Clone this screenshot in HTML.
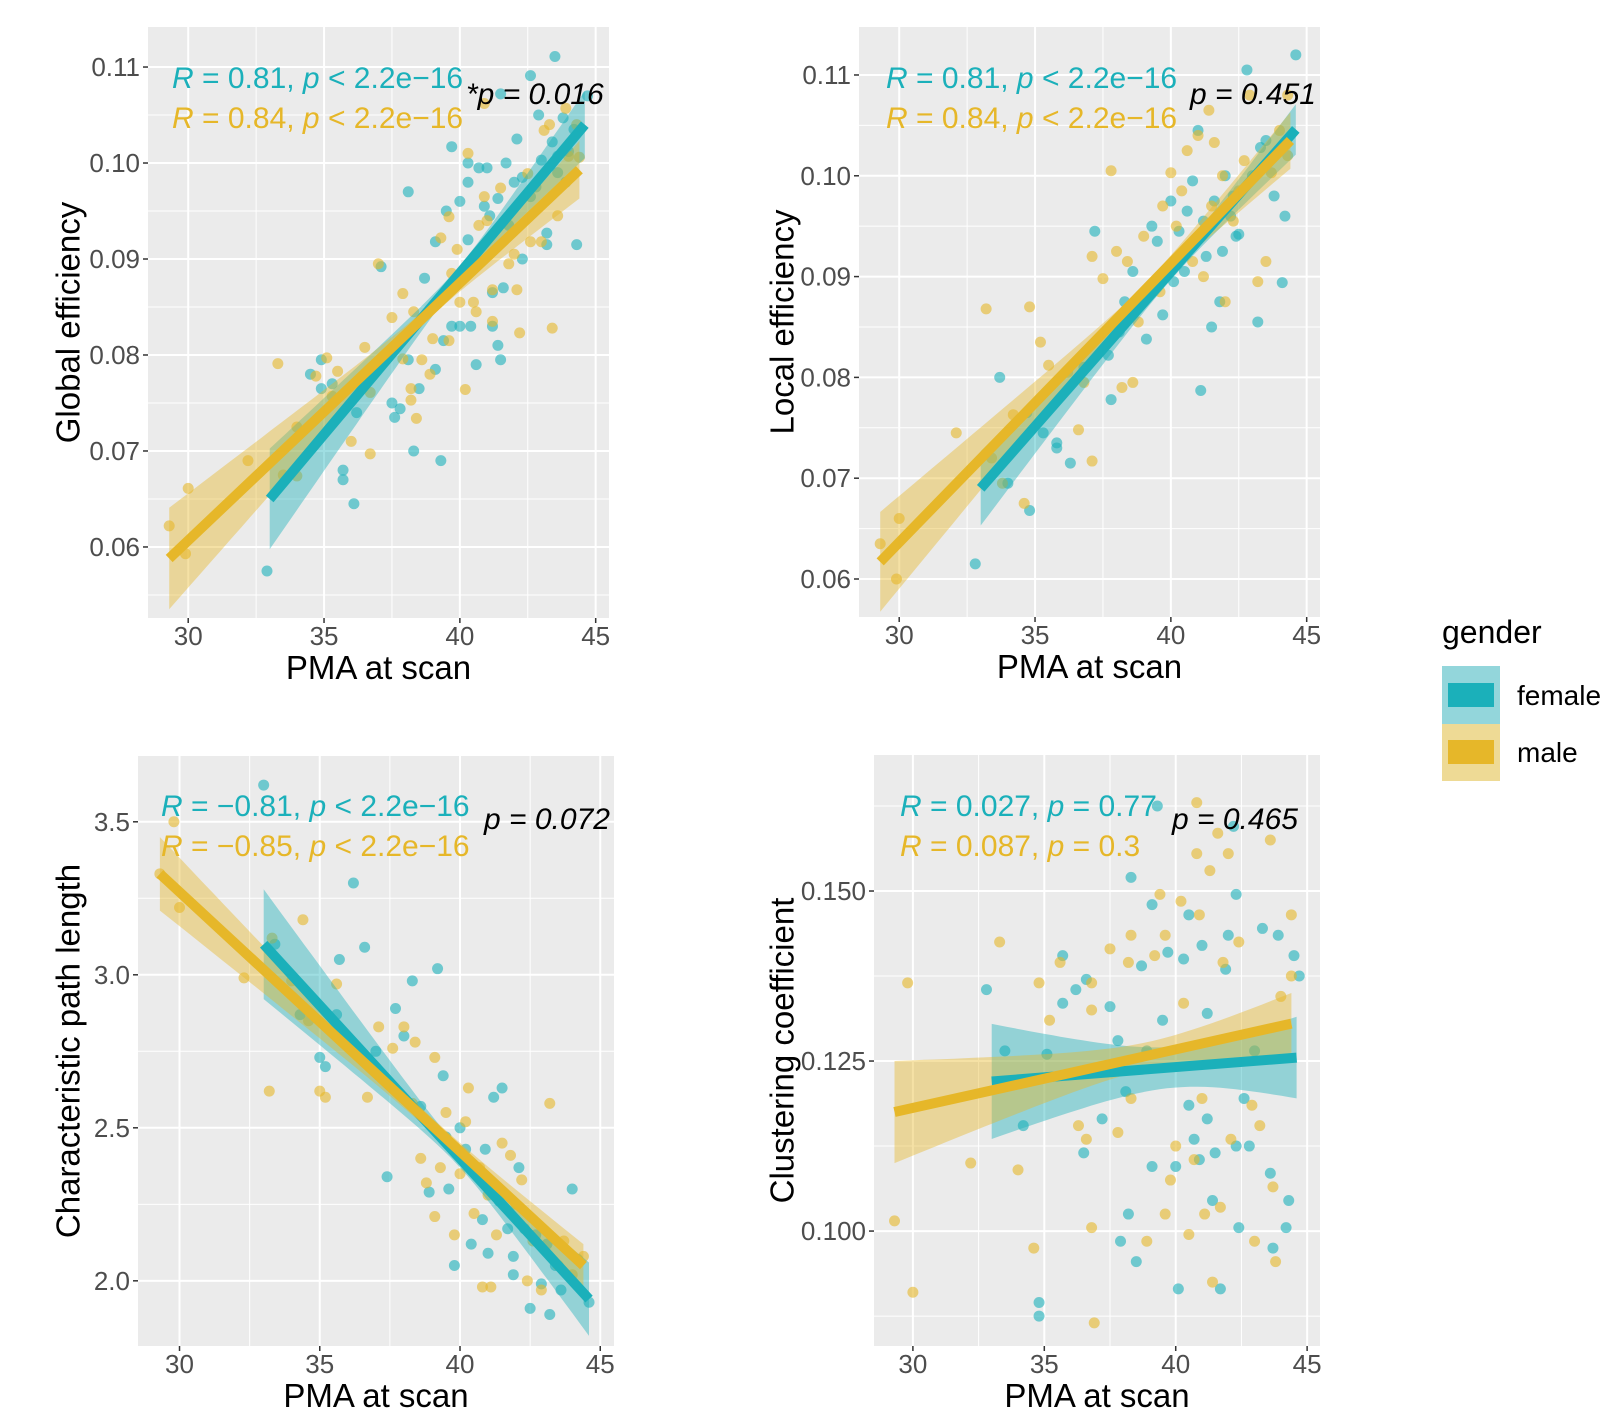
<!DOCTYPE html>
<html><head><meta charset="utf-8">
<style>
html,body{margin:0;padding:0;background:#fff;}
svg{display:block;font-family:"Liberation Sans",Arial,sans-serif;}
</style></head>
<body>
<svg id="fig" width="1622" height="1418" viewBox="0 0 1622 1418" xmlns="http://www.w3.org/2000/svg">
  <g id="legend">
    <text x="1442" y="643" font-size="32" fill="#000">gender</text>
    <rect x="1442" y="666" width="58" height="58" fill="#93D6DB"/>
    <rect x="1448" y="683" width="46" height="24" fill="#1BB0BA"/>
    <text x="1517" y="705" font-size="28" fill="#000">female</text>
    <rect x="1442" y="724" width="58" height="57" fill="#EEDA95"/>
    <rect x="1448" y="740" width="46" height="24" fill="#E6B729"/>
    <text x="1517" y="762" font-size="28" fill="#000">male</text>
  </g>
</svg>
<script>
// ---------- data ----------
const xTicks = [30, 35, 40, 45];
const xMinor = [32.5, 37.5, 42.5];
const xDomain = [28.52, 45.49];

const p1Ticks = [0.06, 0.07, 0.08, 0.09, 0.10, 0.11];
const p1TickLabels = ["0.06", "0.07", "0.08", "0.09", "0.10", "0.11"];
const p1Minor = [0.055, 0.065, 0.075, 0.085, 0.095, 0.105];
const p1Female = [[32.9,0.0575],[34.5,0.078],[34.9,0.0765],[34.9,0.0795],[35.3,0.077],[35.7,0.068],[35.7,0.067],[36.1,0.0645],[36.2,0.074],[37.1,0.0892],[37.5,0.075],[37.6,0.0735],[37.8,0.0744],[38.1,0.097],[38.1,0.0795],[38.3,0.070],[38.5,0.0765],[38.7,0.088],[39.1,0.0918],[39.1,0.0785],[39.3,0.069],[39.4,0.0815],[39.5,0.095],[39.7,0.1017],[39.7,0.083],[40,0.096],[40,0.083],[40.3,0.100],[40.3,0.098],[40.3,0.092],[40.4,0.083],[40.6,0.079],[40.7,0.0995],[40.9,0.0955],[41,0.0995],[41.1,0.0945],[41.2,0.0865],[41.2,0.083],[41.4,0.0963],[41.4,0.081],[41.5,0.1072],[41.5,0.0795],[41.6,0.087],[41.7,0.100],[41.8,0.0935],[42,0.098],[42.1,0.1025],[42.3,0.0985],[42.3,0.090],[42.6,0.0965],[42.6,0.1091],[42.8,0.0975],[43,0.1003],[43.2,0.0915],[43.2,0.0927],[43.4,0.1022],[43.5,0.1111],[43.6,0.1007],[43.6,0.099],[43.8,0.1047],[44,0.1012],[44.2,0.1035],[44.3,0.0915],[44.7,0.107],[42.9,0.105],[43.9,0.098]];
const p1Male = [[29.3,0.0622],[29.9,0.0593],[30,0.0661],[32.2,0.069],[33.3,0.0791],[33.5,0.0675],[34,0.0725],[34,0.0674],[34.7,0.0778],[35.1,0.0797],[35.3,0.0757],[35.5,0.0783],[36,0.071],[36.5,0.0808],[36.7,0.0697],[36.7,0.0761],[37,0.0895],[37.5,0.0839],[37.9,0.0796],[37.9,0.0864],[38.2,0.0765],[38.2,0.0753],[38.3,0.0845],[38.4,0.0734],[38.6,0.0795],[38.9,0.078],[39,0.0817],[39.3,0.0922],[39.6,0.0944],[39.6,0.0815],[39.7,0.0885],[39.9,0.091],[40,0.0855],[40.2,0.0764],[40.3,0.101],[40.5,0.0855],[40.6,0.0845],[40.7,0.0935],[40.9,0.0965],[41,0.094],[41.2,0.0868],[41.2,0.0835],[41.5,0.0974],[41.8,0.0895],[42,0.0905],[42.1,0.0868],[42.2,0.0823],[42.5,0.0989],[42.6,0.0918],[43,0.0918],[43.1,0.1034],[43.3,0.104],[43.4,0.0828],[43.6,0.0945],[43.9,0.1057],[44,0.1007],[44.4,0.1006],[40.9,0.1062],[44.3,0.104]];
// fit: [xStart, xEnd, yStart, yEnd, xCenter, halfWidthCenter, halfWidthEnd]
const p1FitFemale = [33, 44.6, 0.065, 0.104, 40, 0.0008, 0.0035];
const p1FitMale = [29.3, 44.4, 0.0588, 0.0993, 39, 0.0007, 0.003];

const p2Ticks = [0.06, 0.07, 0.08, 0.09, 0.10, 0.11];
const p2TickLabels = ["0.06", "0.07", "0.08", "0.09", "0.10", "0.11"];
const p2Minor = [0.065, 0.075, 0.085, 0.095, 0.105];
const p2Female = [[32.8,0.0615],[33.7,0.080],[34,0.0695],[34.7,0.0765],[34.8,0.0668],[35.3,0.0745],[35.8,0.0735],[35.8,0.073],[36.3,0.0715],[36.8,0.081],[37.2,0.0945],[37.7,0.0822],[37.8,0.0778],[38.1,0.0845],[38.3,0.0875],[38.6,0.0905],[38.9,0.088],[39.1,0.0838],[39.3,0.095],[39.5,0.0935],[39.7,0.0862],[40,0.0975],[40.1,0.0895],[40.3,0.0945],[40.5,0.0905],[40.8,0.0995],[41,0.1045],[41.1,0.0787],[41.2,0.0955],[41.3,0.092],[41.5,0.085],[41.6,0.0975],[41.8,0.0875],[42,0.1],[42.2,0.096],[42.3,0.098],[42.5,0.0942],[42.8,0.1105],[43,0.1],[43.2,0.0855],[43.3,0.1028],[43.5,0.1035],[43.8,0.098],[44.1,0.0894],[44.2,0.096],[44.6,0.112],[42.4,0.094],[41.9,0.0925],[40.6,0.0965],[39.9,0.0905]];
const p2Male = [[29.3,0.0635],[29.9,0.06],[30,0.066],[32.1,0.0745],[33.2,0.0868],[33.4,0.072],[33.8,0.0695],[34.2,0.0763],[34.6,0.0675],[34.8,0.087],[35.2,0.0835],[35.5,0.0812],[36.2,0.0805],[36.6,0.0748],[36.8,0.0795],[37.1,0.0717],[37.1,0.092],[37.5,0.0898],[37.8,0.1005],[38,0.0925],[38.2,0.079],[38.4,0.0915],[38.6,0.0795],[38.8,0.0855],[39,0.094],[39.4,0.0895],[39.7,0.097],[40,0.1003],[40.2,0.095],[40.4,0.0985],[40.6,0.1025],[40.8,0.0915],[41,0.104],[41.2,0.09],[41.4,0.1065],[41.6,0.1033],[41.9,0.1],[42,0.0875],[42.3,0.0955],[42.5,0.0985],[42.7,0.1015],[42.9,0.108],[43.2,0.0895],[43.5,0.0915],[43.7,0.1003],[44,0.1045],[44.3,0.108],[44.3,0.102],[41.5,0.097],[39.6,0.0885]];
const p2FitFemale = [33, 44.6, 0.069, 0.1046, 40, 0.0008, 0.0025];
const p2FitMale = [29.3, 44.4, 0.0617, 0.1035, 39, 0.0006, 0.0028];

const p3Ticks = [2.0, 2.5, 3.0, 3.5];
const p3TickLabels = ["2.0", "2.5", "3.0", "3.5"];
const p3Minor = [2.25, 2.75, 3.25];
const p3Female = [[33,3.62],[33.4,3.1],[34.3,2.87],[35,2.73],[35.2,2.7],[35.6,2.87],[35.7,3.05],[36.2,3.3],[36.6,3.09],[37,2.75],[37.4,2.34],[37.7,2.89],[38,2.8],[38.3,2.98],[38.6,2.57],[38.9,2.29],[39.2,3.02],[39.4,2.67],[39.6,2.3],[39.8,2.05],[40,2.5],[40.2,2.43],[40.4,2.12],[40.6,2.37],[40.8,2.2],[41,2.09],[41.2,2.6],[41.4,2.26],[41.5,2.63],[41.7,2.17],[41.9,2.02],[42.1,2.37],[42.3,2.17],[42.5,1.91],[42.7,2.15],[42.9,1.99],[43.2,1.89],[43.4,2.05],[43.6,1.97],[44,2.3],[44.2,2.07],[44.6,1.93],[41.9,2.08],[40.9,2.43],[39.5,2.47],[43.1,2.12]];
const p3Male = [[29.3,3.33],[29.8,3.5],[30,3.22],[32.3,2.99],[33.2,2.62],[33.3,3.12],[34,2.98],[34.4,3.18],[34.6,2.85],[35,2.62],[35.2,2.6],[35.6,2.97],[36.1,2.76],[36.7,2.6],[37.1,2.83],[37.6,2.76],[38,2.83],[38.3,2.58],[38.4,2.78],[38.6,2.4],[38.8,2.32],[39.1,2.73],[39.3,2.37],[39.5,2.55],[39.8,2.15],[40,2.35],[40.2,2.52],[40.3,2.63],[40.5,2.22],[40.7,2.37],[40.8,1.98],[41,2.28],[41.3,2.15],[41.5,2.45],[41.8,2.41],[42,2.25],[42.2,2.33],[42.4,2.0],[42.6,2.13],[42.9,1.97],[43.2,2.58],[43.5,2.05],[43.7,2.13],[44,2.02],[44.4,2.08],[41.1,1.98],[39.1,2.21]];
const p3FitFemale = [33, 44.6, 3.10, 1.94, 40, 0.03, 0.12];
const p3FitMale = [29.3, 44.4, 3.33, 2.05, 39, 0.025, 0.07];

const p4Ticks = [0.100, 0.125, 0.150];
const p4TickLabels = ["0.100", "0.125", "0.150"];
const p4Minor = [0.0875, 0.1125, 0.1375, 0.1625];
const p4Female = [[32.8,0.1355],[33.5,0.1265],[34.2,0.1155],[34.8,0.0895],[34.8,0.0875],[35.1,0.126],[35.7,0.1405],[35.7,0.1335],[36.2,0.1355],[36.5,0.1115],[36.6,0.137],[37.2,0.1165],[37.5,0.1330],[37.8,0.128],[37.9,0.0985],[38.1,0.1205],[38.2,0.1025],[38.3,0.152],[38.5,0.0955],[38.7,0.139],[38.9,0.1265],[39.1,0.148],[39.1,0.1095],[39.3,0.1625],[39.5,0.131],[39.7,0.141],[40,0.1095],[40.1,0.0915],[40.3,0.14],[40.5,0.1185],[40.5,0.1465],[40.7,0.1135],[40.9,0.1105],[41,0.142],[41.2,0.1165],[41.2,0.132],[41.4,0.1045],[41.5,0.1115],[41.7,0.0915],[41.9,0.1385],[42,0.1435],[42.2,0.1595],[42.3,0.1495],[42.4,0.1005],[42.6,0.1195],[42.8,0.1125],[43,0.1265],[43.3,0.1445],[43.6,0.1085],[43.9,0.1435],[44.2,0.1005],[44.5,0.1405],[44.7,0.1375],[43.7,0.0975],[44.3,0.1045],[42.3,0.1125]];
const p4Male = [[29.3,0.1015],[29.8,0.1365],[30,0.091],[32.2,0.11],[33.3,0.1425],[34,0.109],[34.6,0.0975],[34.8,0.1365],[35.2,0.131],[35.6,0.1395],[36.3,0.1155],[36.6,0.1135],[36.8,0.1365],[36.8,0.1325],[36.8,0.1005],[36.9,0.0865],[37.5,0.1415],[37.8,0.1145],[38.2,0.1395],[38.3,0.1435],[38.3,0.1195],[38.9,0.0985],[39.2,0.1405],[39.4,0.1495],[39.6,0.1435],[39.6,0.1025],[39.8,0.1075],[40,0.1125],[40.2,0.1485],[40.3,0.1335],[40.5,0.0995],[40.7,0.1105],[40.8,0.163],[40.8,0.1555],[40.9,0.1465],[41,0.1195],[41.1,0.1025],[41.3,0.153],[41.4,0.0925],[41.6,0.1585],[41.8,0.1395],[42,0.1555],[42.1,0.1135],[42.4,0.1425],[42.9,0.1185],[43,0.0985],[43.2,0.1155],[43.6,0.1575],[43.7,0.1065],[43.8,0.0955],[44,0.1345],[44.4,0.1465],[44.4,0.1375],[41.7,0.1035]];
const p4FitFemale = [33, 44.6, 0.122, 0.1255, 40, 0.003, 0.006];
const p4FitMale = [29.3, 44.4, 0.1175, 0.1305, 39, 0.002, 0.0045];

// ---------- drawing ----------
const NS = "http://www.w3.org/2000/svg";
const svg = document.getElementById('fig');
const TEAL = "#1BB0BA", GOLD = "#E6B729";
function mk(tag, parent, attrs) {
  const e = document.createElementNS(NS, tag);
  for (const k in attrs) e.setAttribute(k, attrs[k]);
  parent.appendChild(e);
  return e;
}

// annotation parts: [text, italic?]
const p1AnnF = [["R",1],[" = 0.81, ",0],["p",1],[" < 2.2e\u221216",0]];
const p1AnnM = [["R",1],[" = 0.84, ",0],["p",1],[" < 2.2e\u221216",0]];
const p3AnnF = [["R",1],[" = \u22120.81, ",0],["p",1],[" < 2.2e\u221216",0]];
const p3AnnM = [["R",1],[" = \u22120.85, ",0],["p",1],[" < 2.2e\u221216",0]];
const p4AnnF = [["R",1],[" = 0.027, ",0],["p",1],[" = 0.77",0]];
const p4AnnM = [["R",1],[" = 0.087, ",0],["p",1],[" = 0.3",0]];

const panels = [
  {id:'global-efficiency', L:148, R:609, T:27, B:618, yDom:[0.0526,0.11417], ticks:p1Ticks, labels:p1TickLabels, minor:p1Minor,
   f:p1Female, m:p1Male, ff:p1FitFemale, fm:p1FitMale, title:"Global efficiency", tx:68,
   ann:[[p1AnnF, 172, 88],[p1AnnM, 172, 128]], pv:["*p = 0.016", 466, 104]},
  {id:'local-efficiency', L:859, R:1320, T:27, B:617, yDom:[0.05623,0.11476], ticks:p2Ticks, labels:p2TickLabels, minor:p2Minor,
   f:p2Female, m:p2Male, ff:p2FitFemale, fm:p2FitMale, title:"Local efficiency", tx:782,
   ann:[[p1AnnF, 886, 88],[p1AnnM, 886, 128]], pv:["p = 0.451", 1190, 104]},
  {id:'path-length', L:138, R:614, T:756, B:1346, yDom:[1.787,3.715], ticks:p3Ticks, labels:p3TickLabels, minor:p3Minor,
   f:p3Female, m:p3Male, ff:p3FitFemale, fm:p3FitMale, title:"Characteristic path length", tx:68,
   ann:[[p3AnnF, 161, 816],[p3AnnM, 161, 856]], pv:["p = 0.072", 484, 829]},
  {id:'clustering-coefficient', L:874, R:1320, T:755, B:1346, yDom:[0.0831,0.1700], ticks:p4Ticks, labels:p4TickLabels, minor:p4Minor,
   f:p4Female, m:p4Male, ff:p4FitFemale, fm:p4FitMale, title:"Clustering coefficient", tx:782,
   ann:[[p4AnnF, 900, 816],[p4AnnM, 900, 856]], pv:["p = 0.465", 1172, 829]}
];

panels.forEach(P => {
  const g = mk('g', svg, {});
  
  
  const sx = v => P.L + (v - xDomain[0]) / (xDomain[1] - xDomain[0]) * (P.R - P.L);
  const sy = v => P.B - (v - P.yDom[0]) / (P.yDom[1] - P.yDom[0]) * (P.B - P.T);
  const bg = mk('rect', g, {x:P.L, y:P.T, width:P.R-P.L, height:P.B-P.T, fill:'#EBEBEB'});
  
  
  P.minor.forEach(v => { const y = sy(v); if (y > P.T && y < P.B) mk('line', g, {x1:P.L, x2:P.R, y1:y, y2:y, stroke:'#fff', 'stroke-width':1}); });
  xMinor.forEach(v => { const x = sx(v); mk('line', g, {x1:x, x2:x, y1:P.T, y2:P.B, stroke:'#fff', 'stroke-width':1}); });
  P.ticks.forEach((v, i) => {
    const y = sy(v);
    mk('line', g, {x1:P.L, x2:P.R, y1:y, y2:y, stroke:'#fff', 'stroke-width':2});
    mk('line', g, {x1:P.L-5, x2:P.L, y1:y, y2:y, stroke:'#333', 'stroke-width':1.5});
    const t = mk('text', g, {x:P.L-8, y:y+9, 'text-anchor':'end', 'font-size':26, fill:'#4D4D4D'});
    t.textContent = P.labels[i];
    
    
  });
  xTicks.forEach(v => {
    const x = sx(v);
    mk('line', g, {x1:x, x2:x, y1:P.T, y2:P.B, stroke:'#fff', 'stroke-width':2});
    mk('line', g, {x1:x, x2:x, y1:P.B, y2:P.B+5, stroke:'#333', 'stroke-width':1.5});
    const t = mk('text', g, {x:x, y:P.B+27, 'text-anchor':'middle', 'font-size':26, fill:'#4D4D4D'});
    t.textContent = String(v);
    
    
  });
  const clipId = 'clip-' + P.id;
  const cp = mk('clipPath', g, {id:clipId});
  mk('rect', cp, {x:P.L, y:P.T, width:P.R-P.L, height:P.B-P.T});
  const plot = mk('g', g, {'clip-path':'url(#' + clipId + ')'});

  function drawBand(fit, color, name) {
    const [x0, x1, y0, y1, xc, hc, he] = fit;
    const N = 40, up = [], lo = [];
    const far = Math.max(Math.abs(x1 - xc), 1e-6);
    for (let i = 0; i <= N; i++) {
      const x = x0 + (x1 - x0) * i / N;
      const y = y0 + (y1 - y0) * (x - x0) / (x1 - x0);
      const r = (x - xc) / far;
      const h = Math.sqrt(hc*hc + (he*he - hc*hc) * r * r);
      up.push(sx(x).toFixed(1) + ',' + sy(y + h).toFixed(1));
      lo.unshift(sx(x).toFixed(1) + ',' + sy(y - h).toFixed(1));
    }
    const b = mk('polygon', plot, {points: up.concat(lo).join(' '), fill: color, 'fill-opacity': 0.42});
    
    
  }
  function drawPts(pts, color, name) {
    pts.forEach(p => {
      const c = mk('circle', plot, {cx:sx(p[0]), cy:sy(p[1]), r:5.5, fill:color, 'fill-opacity':0.6});
      
      
    });
  }
  function drawLine(fit, color, name) {
    const l = mk('line', plot, {x1:sx(fit[0]), y1:sy(fit[2]), x2:sx(fit[1]), y2:sy(fit[3]), stroke:color, 'stroke-width':10});
    
    
  }
  drawPts(P.f, TEAL, 'female');
  drawPts(P.m, GOLD, 'male');
  drawBand(P.ff, TEAL, 'female');
  drawBand(P.fm, GOLD, 'male');
  drawLine(P.ff, TEAL, 'female');
  drawLine(P.fm, GOLD, 'male');

  const xt = mk('text', g, {x:(P.L+P.R)/2, y:P.B+61, 'text-anchor':'middle', 'font-size':33, fill:'#000'});
  xt.textContent = 'PMA at scan';
  
  
  const cy = (P.T + P.B) / 2;
  const yt = mk('text', g, {x:P.tx, y:cy, 'text-anchor':'middle', 'dominant-baseline':'central', 'font-size':33, fill:'#000', transform:'rotate(-90 ' + P.tx + ' ' + cy + ')'});
  yt.textContent = P.title;
  
  
  P.ann.forEach((a, i) => {
    const t = mk('text', g, {x:a[1], y:a[2], 'font-size':30, fill: i === 0 ? TEAL : GOLD});
    a[0].forEach(part => {
      const s = mk('tspan', t, part[1] ? {'font-style':'italic'} : {});
      s.textContent = part[0];
    });
    
    
  });
  const pv = mk('text', g, {x:P.pv[1], y:P.pv[2], 'font-size':30, 'font-style':'italic', fill:'#000'});
  pv.textContent = P.pv[0];
  
  
});
svg.appendChild(document.getElementById('legend'));
</script>
</body></html>
